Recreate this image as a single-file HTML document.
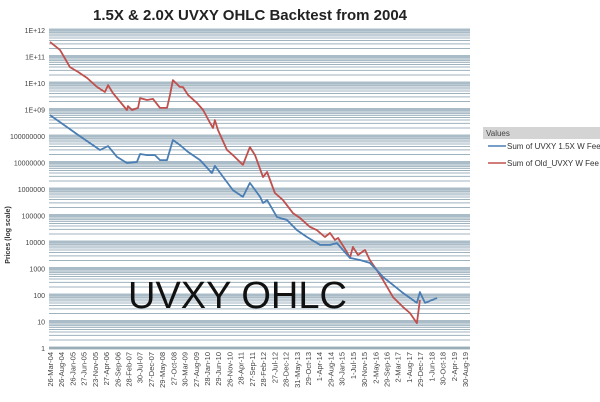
<!DOCTYPE html>
<html><head><meta charset="utf-8"><style>
body{margin:0;background:#fff;width:600px;height:402px;overflow:hidden;font-family:"Liberation Sans",sans-serif}
svg{display:block}
</style></head><body>
<svg id="chart" width="600" height="402">
<text x="250" y="20" text-anchor="middle" font-size="15" font-weight="bold" fill="#222">1.5X &amp; 2.0X UVXY OHLC Backtest from 2004</text>
<text transform="translate(10,235) rotate(-90)" text-anchor="middle" font-size="7" font-weight="bold" fill="#333">Prices (log scale)</text>
<g id="grid"></g><g id="yticks"></g><g id="xticks"></g><g id="series"></g>
<text x="128" y="308" font-size="38" fill="#111">UVXY OHLC</text>
<g>
<rect x="483" y="127" width="117" height="12" fill="#d4d4d4"/>
<text x="486" y="136" font-size="8" fill="#444">Values</text>
<line x1="488" y1="146" x2="506" y2="146" stroke="#4a7eb4" stroke-width="1.5"/>
<text x="507" y="149" font-size="8" fill="#333">Sum of UVXY 1.5X W Fee</text>
<line x1="488" y1="163" x2="506" y2="163" stroke="#c0504d" stroke-width="1.5"/>
<text x="507" y="166" font-size="8" fill="#333">Sum of Old_UVXY W Fee</text>
</g>
</svg>
<script>
const yTickLabels=["1","10","100","1000","10000","100000","1000000","10000000","100000000","1E+09","1E+10","1E+11","1E+12"];
const xLabels=["26-Mar-04","26-Aug-04","26-Jan-05","27-Jun-05","23-Nov-05","27-Apr-06","26-Sep-06","28-Feb-07","30-Jul-07","27-Dec-07","29-May-08","27-Oct-08","30-Mar-09","27-Aug-09","28-Jan-10","29-Jun-10","26-Nov-10","28-Apr-11","27-Sep-11","28-Feb-12","27-Jul-12","28-Dec-12","31-May-13","29-Oct-13","1-Apr-14","29-Aug-14","30-Jan-15","1-Jul-15","30-Nov-15","2-May-16","29-Sep-16","2-Mar-17","1-Aug-17","29-Dec-17","1-Jun-18","30-Oct-18","2-Apr-19","30-Aug-19"];
const redYears=[2004.23,2004.60,2004.97,2005.27,2005.61,2005.98,2006.27,2006.39,2006.57,2007.09,2007.13,2007.28,2007.50,2007.58,2007.84,2008.06,2008.32,2008.58,2008.69,2008.80,2009.06,2009.17,2009.36,2009.69,2009.92,2010.18,2010.29,2010.36,2010.47,2010.81,2011.03,2011.40,2011.66,2011.85,2012.15,2012.30,2012.59,2012.89,2013.26,2013.52,2013.89,2014.15,2014.45,2014.64,2014.82,2014.94,2015.27,2015.38,2015.49,2015.68,2015.94,2016.12,2016.38,2016.61,2016.98,2017.35,2017.61,2017.87,2017.98];
const redLog=[11.55,11.25,10.60,10.42,10.19,9.85,9.66,9.92,9.62,8.98,9.13,8.98,9.06,9.43,9.36,9.40,9.06,9.06,9.55,10.11,9.85,9.85,9.55,9.25,8.98,8.49,8.30,8.60,8.23,7.47,7.28,6.91,7.58,7.28,6.45,6.64,5.85,5.58,5.09,4.91,4.57,4.45,4.19,4.34,4.08,4.15,3.62,3.40,3.81,3.51,3.70,3.32,2.94,2.57,1.92,1.55,1.32,0.94,1.81];
const blueYears=[2004.23,2004.86,2005.27,2006.09,2006.39,2006.72,2007.09,2007.46,2007.58,2007.84,2008.13,2008.32,2008.58,2008.80,2009.06,2009.36,2009.81,2010.25,2010.36,2011.03,2011.40,2011.66,2012.04,2012.15,2012.30,2012.67,2013.04,2013.41,2013.78,2014.27,2014.64,2014.90,2015.38,2015.75,2016.12,2016.38,2016.61,2016.98,2017.35,2017.87,2017.98,2018.17,2018.62];
const blueLog=[8.79,8.34,8.04,7.47,7.62,7.21,6.98,7.02,7.32,7.28,7.28,7.09,7.09,7.85,7.66,7.40,7.09,6.60,6.87,5.96,5.70,6.23,5.70,5.47,5.58,4.94,4.83,4.45,4.19,3.89,3.89,3.96,3.40,3.32,3.21,2.94,2.68,2.38,2.08,1.70,2.11,1.70,1.89];
const NS="http://www.w3.org/2000/svg";
const PL=49,PR=470,PT=30,PB=348;
const yS=l=>PB-(l/12)*(PB-PT);
const xS=yr=>50+(yr-2004.23)*26.9;
function mk(tag,attrs,parent){const e=document.createElementNS(NS,tag);for(const k in attrs)e.setAttribute(k,attrs[k]);parent.appendChild(e);return e;}
const grid=document.getElementById('grid');
for(let d=0;d<12;d++){for(let k=1;k<=9;k++){const y=yS(d+Math.log10(k));
 const ln=mk('line',{x1:PL,x2:PR,y1:y,y2:y,stroke:k===1?'#a9bcc7':'#9fb3bf','stroke-width':k===1?3:1},grid);
 
 }}
const topLine=mk('line',{x1:PL,x2:PR,y1:yS(12),y2:yS(12),stroke:'#a9bcc7','stroke-width':3},grid);


const axisLine=mk('line',{x1:PL,x2:PR,y1:PB,y2:PB,stroke:'#8a9ca6','stroke-width':1},grid);


const yt=document.getElementById('yticks');
yTickLabels.forEach((t,i)=>{const e=mk('text',{x:45,y:yS(i)+3,'text-anchor':'end','font-size':7,fill:'#444'},yt);e.textContent=t;
 
 });
const xt=document.getElementById('xticks');
const step=(465-50)/(xLabels.length-1);
xLabels.forEach((t,i)=>{const x=50+i*step;
 const e=mk('text',{transform:`translate(${x+3},352) rotate(-90)`,'text-anchor':'end','font-size':7.5,fill:'#444'},xt);e.textContent=t;
 
 });
const sg=document.getElementById('series');
function draw(xs,ls,color,name){const d=xs.map((v,i)=>(i?'L':'M')+xS(v).toFixed(1)+','+yS(ls[i]).toFixed(1)).join(' ');
 const p=mk('path',{d:d,fill:'none',stroke:color,'stroke-width':1.8,'stroke-linejoin':'round'},sg);
 
 }
draw(redYears,redLog,'#c0504d','series-old-uvxy');
draw(blueYears,blueLog,'#4a7eb4','series-uvxy-1-5x');
</script>
</body></html>
